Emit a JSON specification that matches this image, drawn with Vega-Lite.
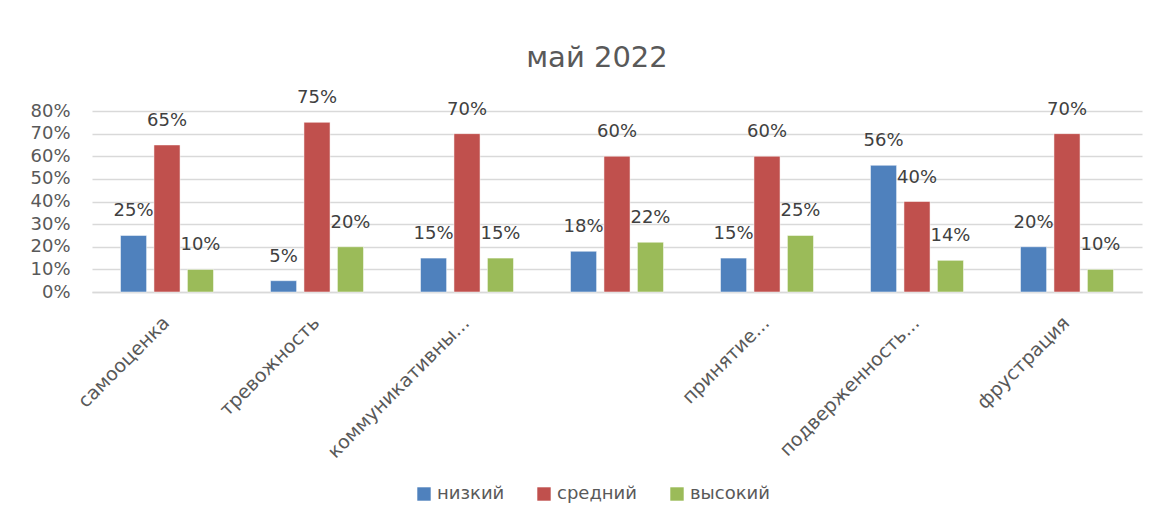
{
  "$schema": "https://vega.github.io/schema/vega-lite/v6.json",
  "autosize": "none",
  "width": 1050,
  "height": 181,
  "padding": {"left": 92, "top": 111, "right": 17, "bottom": 233},
  "background": "white",
  "title": {"text": "май 2022", "fontSize": 29, "font": "DejaVu Sans", "fontWeight": "normal", "color": "#595959", "anchor": "middle", "offset": 16, "dx": -20},
  "config": {
    "view": {"stroke": null},
    "font": "DejaVu Sans",
    "axis": {"labelFont": "DejaVu Sans", "labelColor": "#595959", "titleColor": "#595959"},
    "legend": {"labelFont": "DejaVu Sans"}
  },
  "data": {
    "values": [
      {"cat": "самооценка", "level": "низкий", "v": 0.25},
      {"cat": "самооценка", "level": "средний", "v": 0.65},
      {"cat": "самооценка", "level": "высокий", "v": 0.10},
      {"cat": "тревожность", "level": "низкий", "v": 0.05},
      {"cat": "тревожность", "level": "средний", "v": 0.75},
      {"cat": "тревожность", "level": "высокий", "v": 0.20},
      {"cat": "коммуникативны...", "level": "низкий", "v": 0.15},
      {"cat": "коммуникативны...", "level": "средний", "v": 0.70},
      {"cat": "коммуникативны...", "level": "высокий", "v": 0.15},
      {"cat": " ", "level": "низкий", "v": 0.18},
      {"cat": " ", "level": "средний", "v": 0.60},
      {"cat": " ", "level": "высокий", "v": 0.22},
      {"cat": "принятие...", "level": "низкий", "v": 0.15},
      {"cat": "принятие...", "level": "средний", "v": 0.60},
      {"cat": "принятие...", "level": "высокий", "v": 0.25},
      {"cat": "подверженность...", "level": "низкий", "v": 0.56},
      {"cat": "подверженность...", "level": "средний", "v": 0.40},
      {"cat": "подверженность...", "level": "высокий", "v": 0.14},
      {"cat": "фрустрация", "level": "низкий", "v": 0.20},
      {"cat": "фрустрация", "level": "средний", "v": 0.70},
      {"cat": "фрустрация", "level": "высокий", "v": 0.10}
    ]
  },
  "encoding": {
    "x": {
      "field": "cat", "type": "nominal", "sort": null, "title": null,
      "scale": {"paddingInner": 0.38, "paddingOuter": 0.19},
      "axis": {"labelAngle": -45, "labelFontSize": 19, "labelColor": "#595959", "ticks": false, "domainColor": "#d9d9d9", "domainWidth": 1.5, "labelPadding": 21, "labelOffset": -7, "labelLimit": 300, "labelOverlap": false}
    },
    "y": {
      "field": "v", "type": "quantitative", "title": null,
      "scale": {"domain": [0, 0.8], "nice": false},
      "axis": {"format": ".0%", "values": [0, 0.1, 0.2, 0.3, 0.4, 0.5, 0.6, 0.7, 0.8], "labelOverlap": false, "labelFontSize": 18, "labelColor": "#595959", "domain": false, "ticks": false, "labelPadding": 22, "gridColor": "#d9d9d9", "gridWidth": 1.5}
    },
    "xOffset": {"field": "level", "type": "nominal", "sort": ["низкий", "средний", "высокий"], "scale": {"paddingInner": 0.22}},
    "color": {
      "field": "level", "type": "nominal", "sort": ["низкий", "средний", "высокий"],
      "scale": {"domain": ["низкий", "средний", "высокий"], "range": ["#4f81bd", "#c0504d", "#9bbb59"]},
      "legend": {"orient": "none", "legendX": 323, "legendY": 374, "direction": "horizontal", "title": null, "symbolType": "square", "symbolSize": 180, "labelFontSize": 18, "labelColor": "#595959", "columnPadding": 30, "symbolStrokeWidth": 0}
    }
  },
  "layer": [
    {"mark": {"type": "bar", "stroke": "white", "strokeWidth": 0.5}},
    {
      "mark": {"type": "text", "baseline": "middle", "dy": -24, "fontSize": 18, "color": "#404040"},
      "encoding": {"text": {"field": "v", "type": "quantitative", "format": ".0%"}, "color": {"value": "#404040"}}
    }
  ]
}
